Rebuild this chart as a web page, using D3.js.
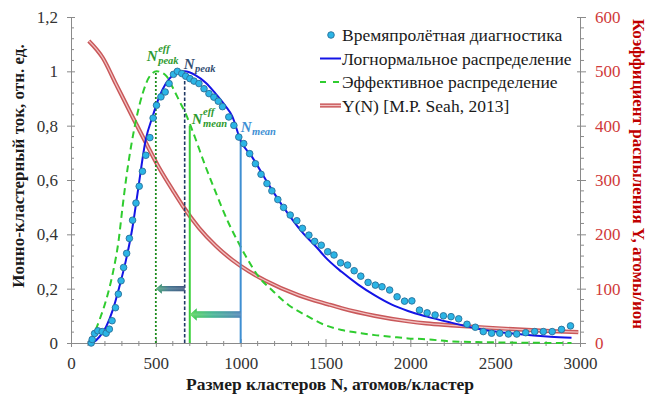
<!DOCTYPE html>
<html>
<head>
<meta charset="utf-8">
<script src="https://cdn.jsdelivr.net/npm/d3@7"></script>
<style>
  html, body { margin: 0; padding: 0; background: #fff; }
  svg { display: block; }
  text { font-family: "Liberation Serif", "Times New Roman", serif; }
</style>
</head>
<body>
<svg id="chart" width="649" height="396"></svg>
<script>
// ---- data -------------------------------------------------------------
// Time-of-flight measurement: [cluster size N, relative ion-cluster current]
const tofPoints = [
  [119,0],[125,0.013],[139,0.035],[158,0.045],[184,0.042],[207,0.036],[226,0.051],
  [242,0.082],[262,0.13],[279,0.18],[295,0.229],[310,0.278],[328,0.33],[344,0.385],
  [363,0.452],[383,0.515],[402,0.577],[421,0.632],[441,0.691],[465,0.756],[484,0.828],
  [504,0.875],[530,0.906],[555,0.924],[578,0.955],[604,0.989],[627,1.0],[653,0.992],
  [676,0.982],[701,0.973],[725,0.964],[754,0.955],[784,0.936],[813,0.918],[842,0.905],
  [868,0.89],[893,0.87],[930,0.832],[960,0.801],[989,0.758],[1018,0.734],[1053,0.697],
  [1087,0.66],[1120,0.621],[1155,0.587],[1184,0.56],[1219,0.528],[1253,0.499],
  [1292,0.471],[1331,0.45],[1364,0.422],[1402,0.397],[1436,0.374],[1475,0.36],
  [1513,0.336],[1550,0.324],[1589,0.295],[1630,0.287],[1669,0.266],[1708,0.246],
  [1751,0.223],[1794,0.213],[1833,0.207],[1878,0.195],[1922,0.17],[1966,0.154],
  [2009,0.155],[2054,0.121],[2099,0.111],[2146,0.103],[2195,0.1],[2240,0.097],
  [2285,0.089],[2334,0.069],[2383,0.058],[2430,0.042],[2479,0.036],[2527,0.036],
  [2578,0.033],[2627,0.033],[2680,0.038],[2733,0.042],[2784,0.042],[2836,0.042],
  [2891,0.05],[2944,0.063]
];

// Log-normal fit of the distribution
const lognormalCurve = [
  [128,0],[168,0.023],[207,0.06],[246,0.121],[285,0.207],[324,0.305],[363,0.428],
  [392,0.55],[441,0.75],[480,0.832],[520,0.906],[559,0.955],[598,0.985],[637,0.998],
  [670,1.0],[735,0.985],[794,0.958],[852,0.918],[911,0.872],[950,0.835],[1000,0.745],
  [1067,0.685],[1165,0.583],[1263,0.49],[1360,0.41],[1458,0.345],[1497,0.317],
  [1595,0.262],[1693,0.215],[1791,0.175],[1888,0.142],[1986,0.118],[2093,0.098],
  [2240,0.075],[2436,0.048],[2632,0.033],[2826,0.023],[2950,0.019]
];

// Effective (yield-weighted) distribution
const effectiveCurve = [
  [119,0.01],[168,0.085],[207,0.158],[246,0.256],[281,0.379],[304,0.501],[324,0.6],
  [383,0.82],[422,0.918],[461,0.979],[505,1.0],[559,0.985],[598,0.942],[637,0.893],
  [676,0.844],[715,0.783],[794,0.648],[852,0.556],[930,0.44],[989,0.367],[1038,0.311],
  [1106,0.244],[1184,0.195],[1282,0.14],[1399,0.097],[1497,0.066],[1595,0.048],
  [1693,0.038],[1791,0.029],[1888,0.023],[1986,0.017],[2093,0.014],[2240,0.006],
  [2534,0.002],[2950,0]
];

// Sputtering yield Y(N), atoms/ion (right axis)
const yieldCurve = [
  [105,556],[187,525],[266,476],[363,416],[442,368],[520,322],[600,281],[657,253],
  [754,212],[853,179],[950,153],[1048,132],[1145,115],[1341,88],[1517,71],[1595,64],
  [1791,50],[1986,40],[2093,36],[2240,32.5],[2436,28.5],[2632,25],[2826,22],[2990,20]
];

// Characteristic sizes: [N, height on left axis]
const nEffPeak = [500, 1.0];
const nPeak = [670, 0.99];
const nEffMean = [700, 0.8];
const nMean = [1000, 0.745];

// Shift arrows: [from N, to N, level on left axis]
const shiftArrows = [
  [670, 500, 0.2],
  [1000, 700, 0.105]
];

// Axis ticks and labels
const xTicks = [0, 500, 1000, 1500, 2000, 2500, 3000];
const xTickLabels = ["0", "500", "1000", "1500", "2000", "2500", "3000"];
const leftTicks = [0, 0.2, 0.4, 0.6, 0.8, 1.0, 1.2];
const leftTickLabels = ["0", "0,2", "0,4", "0,6", "0,8", "1", "1,2"];
const rightTicks = [0, 100, 200, 300, 400, 500, 600];
const rightTickLabels = ["0", "100", "200", "300", "400", "500", "600"];

const legendLabels = [
  "Времяпролётная диагностика",
  "Логнормальное распределение",
  "Эффективное распределение",
  "Y(N) [M.P. Seah, 2013]"
];

// ---- layout -----------------------------------------------------------
const svg = d3.select("#chart");
const plot = { left: 71, right: 580, top: 17, bottom: 343 };

const x = d3.scaleLinear().domain([0, 3000]).range([plot.left, plot.right]);
const yL = d3.scaleLinear().domain([0, 1.2]).range([plot.bottom, plot.top]);
const yR = d3.scaleLinear().domain([0, 600]).range([plot.bottom, plot.top]);

const axisColor = "#8a8a8a";
const labelColor = "#333";
const redDark = "#c00000";
const redTick = "#d03a3a";
const tickFont = 17;

// ---- axes -------------------------------------------------------------
function styleAxis(g) {
  g.select(".domain").attr("stroke", axisColor).attr("stroke-width", 1);
  g.selectAll(".tick line").attr("stroke", axisColor);
  g.selectAll(".tick text")
    .attr("font-size", tickFont)
    .attr("font-family", "Liberation Serif, serif");
}

// minor ticks
const xMinor = d3.range(0, 3001, 100).filter(v => v % 500 !== 0);
svg.append("g")
  .selectAll("line").data(xMinor).join("line")
  .attr("x1", d => x(d)).attr("x2", d => x(d))
  .attr("y1", plot.bottom - 2).attr("y2", plot.bottom + 3)
  .attr("stroke", axisColor);

const leftMinor = d3.range(0, 31).map(v => v * 0.04).filter((v, i) => i % 5 !== 0);
svg.append("g")
  .selectAll("line").data(leftMinor).join("line")
  .attr("x1", plot.left).attr("x2", plot.left + 3)
  .attr("y1", d => yL(d)).attr("y2", d => yL(d))
  .attr("stroke", axisColor);

const rightMinor = d3.range(0, 601, 20).filter(v => v % 100 !== 0);
svg.append("g")
  .selectAll("line").data(rightMinor).join("line")
  .attr("x1", plot.right).attr("x2", plot.right + 4)
  .attr("y1", d => yR(d)).attr("y2", d => yR(d))
  .attr("stroke", axisColor);

const gx = svg.append("g").attr("transform", `translate(0,${plot.bottom})`)
  .call(d3.axisBottom(x).tickValues(xTicks)
    .tickFormat((d, i) => xTickLabels[i]).tickSizeInner(4).tickSizeOuter(0).tickPadding(10));
styleAxis(gx);
gx.selectAll(".tick line").attr("y1", -4);
gx.selectAll(".tick text").attr("fill", labelColor);

const gl = svg.append("g").attr("transform", `translate(${plot.left},0)`)
  .call(d3.axisLeft(yL).tickValues(leftTicks)
    .tickFormat((d, i) => leftTickLabels[i]).tickSizeInner(4).tickSizeOuter(0).tickPadding(9));
styleAxis(gl);
gl.selectAll(".tick line").attr("x1", 4);
gl.selectAll(".tick text").attr("fill", labelColor);

const gr = svg.append("g").attr("transform", `translate(${plot.right},0)`)
  .call(d3.axisRight(yR).tickValues(rightTicks)
    .tickFormat((d, i) => rightTickLabels[i]).tickSizeInner(6).tickSizeOuter(0).tickPadding(9));
styleAxis(gr);
gr.selectAll(".tick line").attr("x1", -3);
gr.selectAll(".tick text").attr("fill", redTick);

// ---- axis titles ------------------------------------------------------
svg.append("text")
  .attr("x", 330).attr("y", 390)
  .attr("text-anchor", "middle")
  .attr("font-size", 17.5).attr("font-weight", "bold").attr("fill", "#1a1a1a")
  .text("Размер кластеров N, атомов/кластер");

svg.append("text")
  .attr("transform", "translate(18,166) rotate(-90)")
  .attr("text-anchor", "middle").attr("dominant-baseline", "central")
  .attr("font-size", 17).attr("font-weight", "bold").attr("fill", "#1a1a1a")
  .text("Ионно-кластерный ток, отн. ед.");

svg.append("text")
  .attr("transform", "translate(638,174) rotate(90)")
  .attr("text-anchor", "middle").attr("dominant-baseline", "central")
  .attr("font-size", 17).attr("font-weight", "bold").attr("fill", redDark)
  .text("Коэффициент распыления Y, атомы/ион");

// ---- curves -----------------------------------------------------------
const lineL = d3.line().x(d => x(d[0])).y(d => yL(d[1])).curve(d3.curveMonotoneX);
const lineR = d3.line().x(d => x(d[0])).y(d => yR(d[1])).curve(d3.curveMonotoneX);

// yield curve drawn as a double red line
svg.append("path").datum(yieldCurve).attr("d", lineR)
  .attr("fill", "none").attr("stroke", "#c9585a").attr("stroke-width", 4.2);
svg.append("path").datum(yieldCurve).attr("d", lineR)
  .attr("fill", "none").attr("stroke", "#f1c2c2").attr("stroke-width", 1.3);

svg.append("path").datum(effectiveCurve).attr("d", lineL)
  .attr("fill", "none").attr("stroke", "#2fcc2f").attr("stroke-width", 2)
  .attr("stroke-dasharray", "7,4.5");

// ---- characteristic size markers ---------------------------------------
function vline(p, color, width, dash) {
  svg.append("line")
    .attr("x1", x(p[0])).attr("x2", x(p[0]))
    .attr("y1", yL(0)).attr("y2", yL(p[1]))
    .attr("stroke", color).attr("stroke-width", width)
    .attr("stroke-dasharray", dash || null);
}
vline(nEffPeak, "#1e8c1e", 1.8, "2,2");
vline(nPeak, "#1f3864", 1.6, "3.5,2");
vline(nEffMean, "#3ad13a", 2, null);
vline(nMean, "#3f8fd2", 2, null);

// ---- shift arrows -----------------------------------------------------
const defs = svg.append("defs");
const arrowColors = [
  ["#2a9a5a", "#1f5a7a", "#1d3a68"],
  ["#35cc35", "#1aa37a", "#2a6aa8"]
];
const arrowSizes = [[2.6, 5, 6], [3.3, 6.3, 7]];
shiftArrows.forEach((a, i) => {
  const [from, to, level] = a;
  const x0 = x(to), x1 = x(from), yc = yL(level);
  const [bh, hh, hl] = arrowSizes[i];
  const grad = defs.append("linearGradient")
    .attr("id", "arrowGrad" + i)
    .attr("gradientUnits", "userSpaceOnUse")
    .attr("x1", x0).attr("x2", x1).attr("y1", 0).attr("y2", 0);
  grad.append("stop").attr("offset", "0%").attr("stop-color", arrowColors[i][0]);
  grad.append("stop").attr("offset", "45%").attr("stop-color", arrowColors[i][1]);
  grad.append("stop").attr("offset", "100%").attr("stop-color", arrowColors[i][2]);
  const shade = defs.append("linearGradient")
    .attr("id", "arrowShade" + i)
    .attr("x1", 0).attr("x2", 0).attr("y1", 0).attr("y2", 1);
  shade.append("stop").attr("offset", "0%").attr("stop-color", "#fff").attr("stop-opacity", 0);
  shade.append("stop").attr("offset", "50%").attr("stop-color", "#fff").attr("stop-opacity", 0.3);
  shade.append("stop").attr("offset", "100%").attr("stop-color", "#fff").attr("stop-opacity", 0);
  const p = d3.path();
  p.moveTo(x0, yc);
  p.lineTo(x0 + hl, yc - hh);
  p.lineTo(x0 + hl, yc - bh);
  p.lineTo(x1, yc - bh);
  p.lineTo(x1, yc + bh);
  p.lineTo(x0 + hl, yc + bh);
  p.lineTo(x0 + hl, yc + hh);
  p.closePath();
  svg.append("path").attr("d", p.toString()).attr("fill", `url(#arrowGrad${i})`);
  svg.append("path").attr("d", p.toString()).attr("fill", `url(#arrowShade${i})`);
});

// ---- log-normal fit and measured points --------------------------------
svg.append("path").datum(lognormalCurve).attr("d", lineL)
  .attr("fill", "none").attr("stroke", "#1414e6").attr("stroke-width", 2);

svg.append("g")
  .selectAll("circle").data(tofPoints).join("circle")
  .attr("cx", d => x(d[0])).attr("cy", d => yL(d[1]))
  .attr("r", 3.3)
  .attr("fill", "#2bb5e6").attr("stroke", "#2a6f99").attr("stroke-width", 0.9);

// ---- marker labels ----------------------------------------------------
function sizeLabel(xPos, yBase, sup, sub, color) {
  const g = svg.append("g")
    .attr("font-weight", "bold").attr("font-style", "italic").attr("fill", color);
  const n = g.append("text").attr("x", xPos).attr("y", yBase)
    .attr("font-size", 15).text("N");
  const w = n.node().getComputedTextLength();
  if (sup) {
    g.append("text").attr("x", xPos + w + 0.5).attr("y", yBase - 9)
      .attr("font-size", 10.5).text(sup);
  }
  g.append("text").attr("x", xPos + w + 0.5).attr("y", yBase + 3)
    .attr("font-size", 10.5).text(sub);
}
sizeLabel(x(nEffPeak[0]) - 9, yL(nEffPeak[1]) - 10, "eff", "peak", "#2e9a2e");
sizeLabel(x(nPeak[0]) - 1, yL(nPeak[1]) - 5, null, "peak", "#344e72");
sizeLabel(x(nEffMean[0]) + 2, yL(nEffMean[1]) - 2, "eff", "mean", "#2e9a2e");
sizeLabel(x(nMean[0]), yL(nMean[1]) - 9, null, "mean", "#3e8fd4");

// ---- legend -----------------------------------------------------------
const legend = svg.append("g");
const rowY = [35, 58.5, 82, 105.5];
const lx0 = 320, lx1 = 341, tx = 342;

legend.append("circle").attr("cx", 331).attr("cy", rowY[0]).attr("r", 3.3)
  .attr("fill", "#2bb5e6").attr("stroke", "#2a6f99").attr("stroke-width", 0.9);
legend.append("line").attr("x1", lx0).attr("x2", lx1).attr("y1", rowY[1]).attr("y2", rowY[1])
  .attr("stroke", "#1414e6").attr("stroke-width", 2);
legend.append("line").attr("x1", lx0).attr("x2", lx1).attr("y1", rowY[2]).attr("y2", rowY[2])
  .attr("stroke", "#2fcc2f").attr("stroke-width", 2).attr("stroke-dasharray", "6,7");
legend.append("line").attr("x1", lx0).attr("x2", lx1).attr("y1", rowY[3]).attr("y2", rowY[3])
  .attr("stroke", "#c9585a").attr("stroke-width", 4.2);
legend.append("line").attr("x1", lx0).attr("x2", lx1).attr("y1", rowY[3]).attr("y2", rowY[3])
  .attr("stroke", "#f1c2c2").attr("stroke-width", 1.3);

legend.selectAll("text.lg").data(legendLabels).join("text")
  .attr("class", "lg")
  .attr("x", tx).attr("y", (d, i) => rowY[i] + 6)
  .attr("font-size", 17.5).attr("fill", "#1a1a1a")
  .text(d => d);
</script>
</body>
</html>
